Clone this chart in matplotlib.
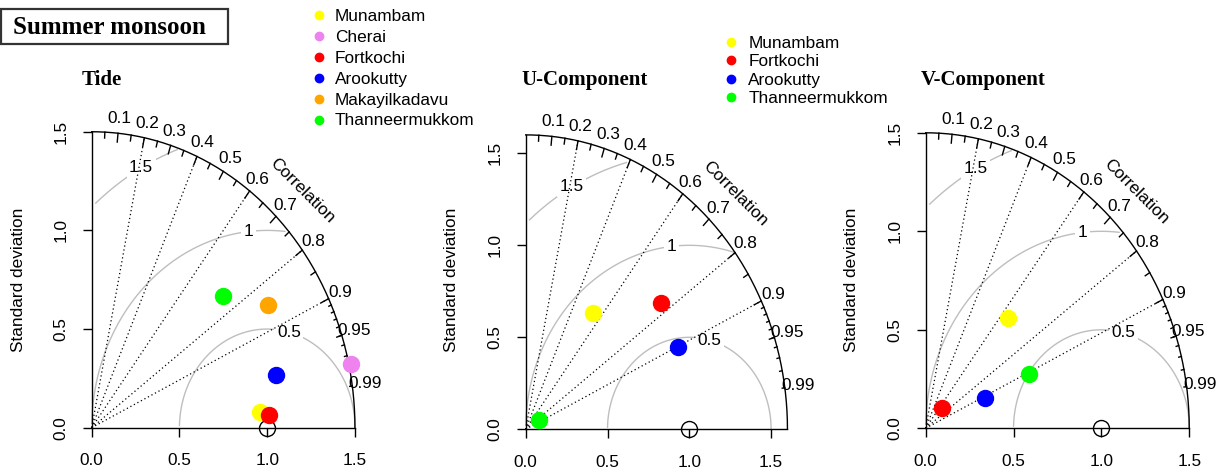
import numpy as np
import matplotlib
matplotlib.use("Agg")
import matplotlib.pyplot as plt

plt.rcParams['font.family'] = ['Liberation Sans', 'DejaVu Sans']

# ---- data: standard deviation and correlation of each station ----
tide_names = ["Munambam", "Cherai", "Fortkochi", "Arookutty", "Makayilkadavu", "Thanneermukkom"]
tide_colors = ["#FFFF00", "#EE82EE", "#FF0000", "#0000FF", "#FFA500", "#00FF00"]
tide_sd = [0.962, 1.513, 1.010, 1.083, 1.182, 1.004]
tide_cor = [0.9967, 0.977, 0.998, 0.969, 0.851, 0.747]

vel_names = ["Munambam", "Fortkochi", "Arookutty", "Thanneermukkom"]
vel_colors = ["#FFFF00", "#FF0000", "#0000FF", "#00FF00"]
u_sd = [0.752, 1.074, 1.035, 0.094]
u_cor = [0.545, 0.768, 0.901, 0.843]
v_sd = [0.732, 0.141, 0.371, 0.651]
v_cor = [0.642, 0.670, 0.909, 0.907]

ref_sd = 1.0
axis_ticks = [0.0, 0.5, 1.0, 1.5]
gamma_levels = [0.5, 1.0, 1.5]
gamma_labels = ["0.5", "1", "1.5"]
corr_lines = [0.2, 0.4, 0.6, 0.8, 0.9]
corr_labels = [0.1, 0.2, 0.3, 0.4, 0.5, 0.6, 0.7, 0.8, 0.9, 0.95, 0.99]

W, H = 1226, 474
fig = plt.figure(figsize=(W / 100, H / 100), dpi=100)
fig.patch.set_facecolor("white")

FS = 12.4
GRAY = "#BEBEBE"


def add_panel(x0, xscale, y0, yscale, maxsd):
    ax = fig.add_axes([x0 / W, 1 - y0 / H, maxsd * xscale / W, maxsd * yscale / H])
    ax.set_xlim(0, maxsd)
    ax.set_ylim(0, maxsd)
    ax.patch.set_alpha(0)
    for s in ax.spines.values():
        s.set_visible(False)
    return ax


def taylor(ax, maxsd, sd, cor, colors):
    # correlation rays
    for c in corr_lines:
        ax.plot([0, maxsd * c], [0, maxsd * np.sqrt(1 - c ** 2)], color="black",
                lw=0.9, linestyle=(0, (1, 2.2)), clip_on=False, zorder=2)
    # axis lines
    ax.plot([0, maxsd], [0, 0], color="black", lw=1.0, clip_on=False, zorder=3)
    ax.plot([0, 0], [0, maxsd], color="black", lw=1.0, clip_on=False, zorder=3)
    ax.set_xticks(axis_ticks)
    ax.set_yticks(axis_ticks)
    ax.set_xticklabels([f"{t:.1f}" for t in axis_ticks], fontsize=FS)
    ax.set_yticklabels([f"{t:.1f}" for t in axis_ticks], fontsize=FS)
    ax.tick_params(axis="both", direction="out", length=6.5, width=1.0)
    ax.tick_params(axis="x", pad=12)
    ax.tick_params(axis="y", pad=10, labelrotation=90)
    for lab in ax.get_yticklabels():
        lab.set_va("center")

    # centred RMS difference arcs
    t = np.arange(0, np.pi + 1e-9, 0.03)
    labelpos = np.linspace(45, 70, len(gamma_levels)).astype(int) - 1
    for g, glab, lp in zip(gamma_levels, gamma_labels, labelpos):
        xc = np.cos(t) * g + ref_sd
        yc = np.sin(t) * g
        neg = np.where(xc < 0)[0]
        end = neg.min() - 1 if len(neg) else len(t) - 1
        out = np.where(xc ** 2 + yc ** 2 > maxsd ** 2)[0]
        start = out.max() + 1 if len(out) else 0
        ax.plot(xc[start:end + 1], yc[start:end + 1], color=GRAY, lw=1.0,
                clip_on=False, zorder=1)
        if xc[lp] > 0:
            ax.text(xc[lp], yc[lp], glab, fontsize=FS, ha="center", va="center",
                    zorder=1.5,
                    bbox=dict(boxstyle="square,pad=0.15", facecolor="white",
                              edgecolor="none"))

    # outer arc and correlation ticks
    a = np.linspace(0, np.pi / 2, 200)
    ax.plot(np.cos(a) * maxsd, np.sin(a) * maxsd, color="black", lw=1.0,
            clip_on=False, zorder=3)
    for vals, frac in ((np.arange(0.1, 0.95, 0.1), 0.97),
                       (np.arange(0.05, 1.0, 0.1), 0.98),
                       (np.arange(0.91, 0.995, 0.01), 0.99)):
        ang = np.arccos(vals)
        for an in ang:
            ax.plot([np.cos(an) * maxsd, np.cos(an) * frac * maxsd],
                    [np.sin(an) * maxsd, np.sin(an) * frac * maxsd],
                    color="black", lw=1.0, clip_on=False, zorder=3)
    for c in corr_labels:
        an = np.arccos(c)
        ax.text(np.cos(an) * 1.05 * maxsd, np.sin(an) * 1.05 * maxsd,
                f"{c:g}", fontsize=FS, ha="center", va="center", zorder=4)
    ax.text(0.8 * maxsd, 0.8 * maxsd, "Correlation", fontsize=FS, rotation=-45,
            rotation_mode="anchor", ha="center", va="center", zorder=4)

    # reference point
    ax.plot([ref_sd], [0], marker="o", ms=11.5, mfc="none", mec="black",
            mew=1.0, clip_on=False, zorder=5)
    # stations
    for s, r, col in zip(sd, cor, colors):
        ax.plot([s * r], [s * np.sqrt(1 - r ** 2)], marker="o", ms=11.5,
                color=col, mec=col, linestyle="none", clip_on=False, zorder=6)


def legend(x_marker, x_text, y_first, step, names, colors):
    for i, (n, c) in enumerate(zip(names, colors)):
        y = y_first + i * step
        fig.lines.append(plt.Line2D([x_marker / W], [1 - y / H], marker="o",
                                    ms=6, color=c, mec=c, linestyle="none",
                                    transform=fig.transFigure))
        fig.text(x_text / W, 1 - (y + 6.0) / H, n, fontsize=FS, ha="left",
                 va="baseline")


ax1 = add_panel(91.7, 175.5, 427.7, 197.3, 1.5)
taylor(ax1, 1.5, tide_sd, tide_cor, tide_colors)
ax2 = add_panel(525.7, 163.6, 429.3, 184.0, 1.6)
taylor(ax2, 1.6, u_sd, u_cor, vel_colors)
ax3 = add_panel(925.7, 175.7, 428.3, 197.0, 1.5)
taylor(ax3, 1.5, v_sd, v_cor, vel_colors)

# y labels
for xc in (18.3, 452.0, 852.0):
    fig.text(xc / W, 1 - 280 / H, "Standard deviation", fontsize=FS,
             rotation=90, ha="center", va="center")

# panel titles
serif = ["Liberation Serif", "DejaVu Serif"]
for xl, title in ((81.7, "Tide"), (521.7, "U-Component"), (920.7, "V-Component")):
    fig.text(xl / W, 1 - 85 / H, title, fontsize=15, fontweight="bold",
             family=serif, ha="left", va="baseline")

# season box
fig.patches.append(plt.Rectangle((1 / W, 1 - 44 / H), 227 / W, 35 / H,
                                 transform=fig.transFigure, fill=False,
                                 edgecolor="#333333", lw=1.6))
fig.text(12.7 / W, 1 - 34.3 / H, "Summer monsoon", fontsize=18, fontweight="bold",
         family=serif, ha="left", va="baseline")

legend(318.5, 335.0, 15.0, 20.9, tide_names, tide_colors)
legend(730.5, 748.3, 42.0, 18.4, vel_names, vel_colors)

fig.savefig("out.png", dpi=100, facecolor="white")
